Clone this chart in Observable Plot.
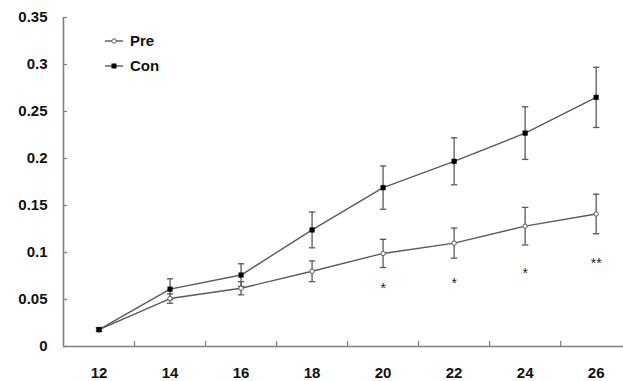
<!DOCTYPE html>
<html>
<head>
<meta charset="utf-8">
<script src="https://cdn.jsdelivr.net/npm/d3@7"></script>
<script src="https://cdn.jsdelivr.net/npm/@observablehq/plot@0.6"></script>
<style>
  html, body { margin: 0; padding: 0; background: #fff; }
  #wrap { position: relative; width: 623px; height: 381px; }
  .legend { position: absolute; left: 104px; font: bold 15px "Liberation Sans", Arial, sans-serif; color: #111; }
  .legend div { display: flex; align-items: center; height: 25px; }
  .legend svg { margin-right: 6px; }
</style>
</head>
<body>
<div id="wrap"></div>
<script>
const weeks = [12, 14, 16, 18, 20, 22, 24, 26];
const preMean = [0.018, 0.051, 0.062, 0.080, 0.099, 0.110, 0.128, 0.141];
const preErr  = [0.002, 0.005, 0.007, 0.011, 0.015, 0.016, 0.020, 0.021];
const conMean = [0.018, 0.061, 0.076, 0.124, 0.169, 0.197, 0.227, 0.265];
const conErr  = [0.002, 0.011, 0.012, 0.019, 0.023, 0.025, 0.028, 0.032];
const starWeeks = [20, 22, 24, 26];
const starLabels = ["*", "*", "*", "**"];
const starY = [0.064, 0.069, 0.080, 0.090];
const yTicks = [0, 0.05, 0.1, 0.15, 0.2, 0.25, 0.3, 0.35];
const xBoundaryTicks = [13, 15, 17, 19, 21, 23, 25];

const seriesNames = ["Pre", "Con"];
const data = [];
weeks.forEach((w, i) => {
  data.push({series: "Pre", x: w, y: preMean[i], e: preErr[i]});
  data.push({series: "Con", x: w, y: conMean[i], e: conErr[i]});
});
const stars = starWeeks.map((w, i) => ({x: w, y: starY[i], t: starLabels[i]}));
const capHalf = 0.09;
const gray = "#5a5a5a";
const axisGray = "#7f7f7f";
const font = '"Liberation Sans", Arial, sans-serif';

const chart = Plot.plot({
  width: 623,
  height: 381,
  marginLeft: 63,
  marginRight: 0,
  marginTop: 17,
  marginBottom: 35,
  style: {fontFamily: font, fontSize: "15px", fontWeight: "bold", color: "#111", background: "white"},
  x: {type: "linear", domain: [11, 26.77]},
  y: {domain: [0, 0.35]},
  marks: [
    Plot.axisY({ticks: yTicks, tickSize: -4, tickPadding: 20, stroke: axisGray, strokeWidth: 1.2,
      tickFormat: d => String(+d.toFixed(2)), label: null, fill: "#111"}),
    Plot.axisX({ticks: xBoundaryTicks, tickSize: -5, tickFormat: () => "", stroke: axisGray, strokeWidth: 1.2, label: null}),
    Plot.axisX({ticks: weeks, tickSize: 0, tickPadding: 21, tickFormat: d => String(d), label: null, fill: "#111"}),
    Plot.ruleX([11], {stroke: axisGray, strokeWidth: 1.6}),
    Plot.ruleY([0], {stroke: axisGray, strokeWidth: 1.6}),
    Plot.ruleX(data, {x: "x", y1: d => d.y - d.e, y2: d => d.y + d.e, stroke: gray, strokeWidth: 1.3}),
    Plot.link(data, {x1: d => d.x - capHalf, x2: d => d.x + capHalf, y1: d => d.y + d.e, y2: d => d.y + d.e, stroke: gray, strokeWidth: 1.3}),
    Plot.link(data, {x1: d => d.x - capHalf, x2: d => d.x + capHalf, y1: d => d.y - d.e, y2: d => d.y - d.e, stroke: gray, strokeWidth: 1.3}),
    Plot.line(data, {x: "x", y: "y", z: "series", stroke: gray, strokeWidth: 1.4}),
    Plot.dot(data.filter(d => d.series === "Pre"), {x: "x", y: "y", symbol: "circle", r: 2.2, fill: "#fff", stroke: gray, strokeWidth: 1}),
    Plot.dot(data.filter(d => d.series === "Con"), {x: "x", y: "y", symbol: "square", r: 2.6, fill: "#000", stroke: "#000", strokeWidth: 0.5}),
    Plot.text(stars, {x: "x", y: "y", text: "t", fontSize: 14, fontWeight: "normal", fill: "#222", dy: 2})
  ]
});

const wrap = document.getElementById("wrap");
wrap.appendChild(chart);

const legend = document.createElement("div");
legend.className = "legend";
legend.style.top = "28px";
const sym = {
  Pre: '<circle cx="10" cy="6" r="2.2" fill="#fff" stroke="#5a5a5a" stroke-width="1"/>',
  Con: '<rect x="7.5" y="3.5" width="5" height="5" fill="#000"/>'
};
seriesNames.forEach(name => {
  const row = document.createElement("div");
  row.innerHTML = `<svg width="20" height="12"><line x1="1" x2="19" y1="6" y2="6" stroke="#5a5a5a" stroke-width="1.4"/>${sym[name]}</svg><span>${name}</span>`;
  legend.appendChild(row);
});
wrap.appendChild(legend);
</script>
</body>
</html>
